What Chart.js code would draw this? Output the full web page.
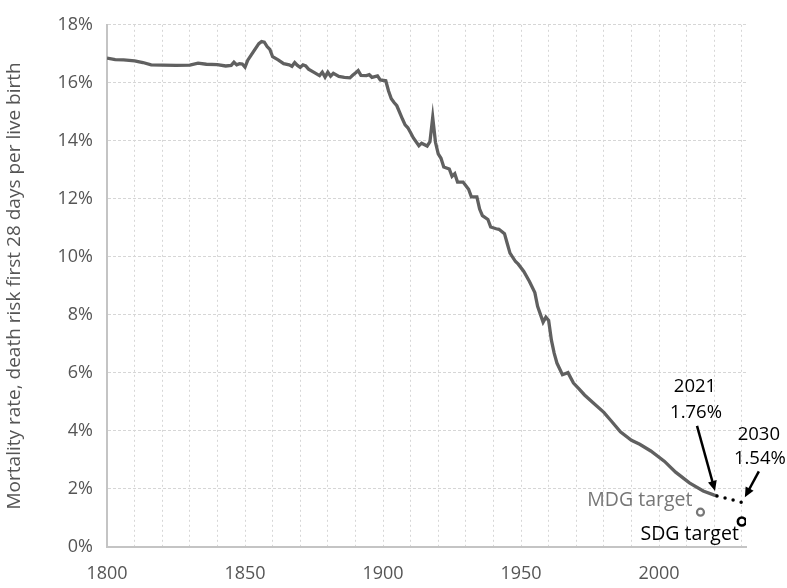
<!DOCTYPE html>
<html>
<head>
<meta charset="utf-8">
<script src="https://cdn.jsdelivr.net/npm/chart.js@4/dist/chart.umd.min.js"></script>
<style>
  html, body { margin: 0; padding: 0; background: #fff; }
  #wrap { width: 787px; height: 588px; }
</style>
</head>
<body>
<div id="wrap"><canvas id="nmr"></canvas></div>
<script>
// Neonatal mortality (percent of live births)
const years = [1800, 1803, 1806, 1810, 1813, 1816, 1820, 1825, 1830, 1833, 1836, 1840, 1843, 1845, 1846, 1847, 1848, 1849,
  1850, 1851, 1853, 1855, 1856, 1857, 1858, 1859, 1860, 1862, 1864, 1866, 1867, 1868, 1869, 1870, 1871, 1872, 1873, 1875,
  1877, 1878, 1879, 1880, 1881, 1882, 1884, 1886, 1888, 1889, 1890, 1891, 1892, 1894, 1895, 1896, 1898, 1899, 1901, 1902,
  1903, 1904, 1905, 1907, 1908, 1909, 1910, 1911, 1913, 1914, 1916, 1917, 1918, 1919, 1920, 1921, 1922, 1924, 1925, 1926,
  1927, 1929, 1931, 1932, 1934, 1935, 1936, 1938, 1939, 1941, 1942, 1944, 1945, 1946, 1948, 1949, 1951, 1953, 1955, 1956,
  1958, 1959, 1960, 1961, 1962, 1963, 1965, 1967, 1969, 1971, 1973, 1976, 1980, 1983, 1986, 1990, 1993, 1997, 2002, 2006,
  2011, 2016, 2020, 2021];
const rates = [16.85, 16.80, 16.79, 16.76, 16.70, 16.62, 16.61, 16.60, 16.61, 16.68, 16.64, 16.63, 16.58, 16.60, 16.71, 16.62, 16.66, 16.65,
  16.54, 16.78, 17.07, 17.35, 17.42, 17.40, 17.25, 17.15, 16.90, 16.79, 16.66, 16.62, 16.57, 16.70, 16.60, 16.53, 16.62, 16.58, 16.47, 16.36,
  16.25, 16.37, 16.20, 16.37, 16.23, 16.33, 16.22, 16.19, 16.17, 16.26, 16.34, 16.42, 16.26, 16.25, 16.28, 16.19, 16.24, 16.10, 16.07, 15.72,
  15.45, 15.32, 15.21, 14.76, 14.55, 14.45, 14.28, 14.10, 13.83, 13.92, 13.82, 13.97, 14.81, 13.95, 13.55, 13.40, 13.10, 13.03, 12.78, 12.87,
  12.58, 12.58, 12.33, 12.07, 12.07, 11.65, 11.42, 11.29, 11.03, 10.97, 10.95, 10.80, 10.46, 10.13, 9.84, 9.75, 9.50, 9.16, 8.77, 8.30,
  7.75, 7.92, 7.81, 7.13, 6.68, 6.34, 5.94, 6.01, 5.65, 5.45, 5.24, 4.98, 4.64, 4.31, 3.97, 3.68, 3.54, 3.31, 2.95, 2.58,
  2.21, 1.93, 1.79, 1.76];

// Projection from the last estimate to 2030
const projYears = [2021, 2030];
const projRates = [1.76, 1.54];

// Targets
const targetNames = ['MDG target', 'SDG target'];
const targetYears = [2015, 2030];
const targetRates = [1.2, 0.88];

const yTicks = [0, 2, 4, 6, 8, 10, 12, 14, 16, 18];

const FONT = "'Open Sans', 'DejaVu Sans', sans-serif";

function toXY(xs, ys) {
    return xs.map((x, i) => ({ x: x, y: ys[i] }));
}

// Draws the arrow with a filled head
function arrow(ctx, x1, y1, x2, y2) {
    const ang = Math.atan2(y2 - y1, x2 - x1);
    const head = 10, half = 4.5;
    ctx.save();
    ctx.strokeStyle = '#000';
    ctx.fillStyle = '#000';
    ctx.lineWidth = 2.5;
    ctx.beginPath();
    ctx.moveTo(x1, y1);
    ctx.lineTo(x2 - Math.cos(ang) * head * 0.8, y2 - Math.sin(ang) * head * 0.8);
    ctx.stroke();
    ctx.beginPath();
    ctx.moveTo(x2, y2);
    ctx.lineTo(x2 - Math.cos(ang) * head + Math.sin(ang) * half, y2 - Math.sin(ang) * head - Math.cos(ang) * half);
    ctx.lineTo(x2 - Math.cos(ang) * head - Math.sin(ang) * half, y2 - Math.sin(ang) * head + Math.cos(ang) * half);
    ctx.closePath();
    ctx.fill();
    ctx.restore();
}

// Labels and arrows anchored to the data points
const notes = {
    id: 'notes',
    afterDatasetsDraw(chart) {
        const { ctx, scales: { x, y } } = chart;
        ctx.save();
        ctx.textAlign = 'center';
        ctx.textBaseline = 'middle';

        // 2021 estimate
        const ax = x.getPixelForValue(projYears[0]), ay = y.getPixelForValue(projRates[0]);
        ctx.fillStyle = '#000';
        ctx.font = '18.5px ' + FONT;
        ctx.fillText(String(projYears[0]), ax - 22, ay - 109);
        ctx.fillText(projRates[0].toFixed(2) + '%', ax - 21, ay - 83);
        arrow(ctx, ax - 20, ay - 70, ax - 2, ay - 5);

        // 2030 projection
        const bx = x.getPixelForValue(projYears[1]), by = y.getPixelForValue(projRates[1]);
        ctx.fillText(String(projYears[1]), bx + 17, by - 68);
        ctx.fillText(projRates[1].toFixed(2) + '%', bx + 18, by - 44);
        arrow(ctx, bx + 17, by - 31, bx + 3, by - 5);

        // target labels
        ctx.font = '19.5px ' + FONT;
        ctx.textAlign = 'right';
        const mx = x.getPixelForValue(targetYears[0]), my = y.getPixelForValue(targetRates[0]);
        ctx.fillStyle = '#777';
        ctx.fillText(targetNames[0], mx - 8, my - 12);
        const sx = x.getPixelForValue(targetYears[1]), sy = y.getPixelForValue(targetRates[1]);
        ctx.fillStyle = '#000';
        ctx.fillText(targetNames[1], sx - 3, sy + 13);
        ctx.restore();
    }
};

const chart = new Chart(document.getElementById('nmr'), {
    type: 'line',
    data: {
        datasets: [
            { data: toXY(years, rates), borderColor: '#606060', borderWidth: 3.3, pointRadius: 0, tension: 0, order: 3 },
            { data: toXY(projYears, projRates), borderColor: '#000', borderWidth: 3.5, borderDash: [0, 8.3], borderCapStyle: 'round', pointRadius: 0, order: 2 },
            { data: [{ x: targetYears[0], y: targetRates[0] }], showLine: false, pointRadius: 3.5, pointBorderWidth: 2.2, pointBorderColor: '#777', pointBackgroundColor: '#fff', order: 1 },
            { data: [{ x: targetYears[1], y: targetRates[1] }], showLine: false, pointRadius: 4, pointBorderWidth: 2.6, pointBorderColor: '#000', pointBackgroundColor: '#fff', order: 1 }
        ]
    },
    options: {
        responsive: true,
        maintainAspectRatio: false,
        animation: false,
        layout: { padding: { top: 16, right: 41, left: 0, bottom: 0 } },
        plugins: { legend: { display: false }, tooltip: { enabled: false } },
        scales: {
            x: {
                type: 'linear',
                min: 1800,
                max: 2031.5,
                afterFit: (s) => { s.height = 41; },
                grid: { color: '#d6d6d6', lineWidth: 1, drawTicks: false },
                border: { color: '#c4c4c4', width: 2, dash: [2, 3] },
                ticks: {
                    stepSize: 10,
                    includeBounds: false,
                    autoSkip: false,
                    maxRotation: 0,
                    padding: 16,
                    color: '#555',
                    font: { family: FONT, size: 18 },
                    callback: (v) => (v % 50 === 0 ? String(v) : '')
                }
            },
            y: {
                min: 0,
                max: 18,
                afterFit: (s) => { s.width = 107; },
                afterBuildTicks: (s) => { s.ticks = yTicks.map(v => ({ value: v })); },
                grid: { color: '#d6d6d6', lineWidth: 1, drawTicks: false },
                border: { color: '#c4c4c4', width: 2, dash: [3, 2] },
                ticks: {
                    padding: 14,
                    color: '#555',
                    font: { family: FONT, size: 18 },
                    callback: (v) => v + '%'
                },
                title: {
                    display: true,
                    text: 'Mortality rate, death risk first 28 days per live birth',
                    color: '#555',
                    font: { family: FONT, size: 19 },
                    padding: { top: 3, bottom: 0 }
                }
            }
        }
    },
    plugins: [notes]
});
</script>
</body>
</html>
